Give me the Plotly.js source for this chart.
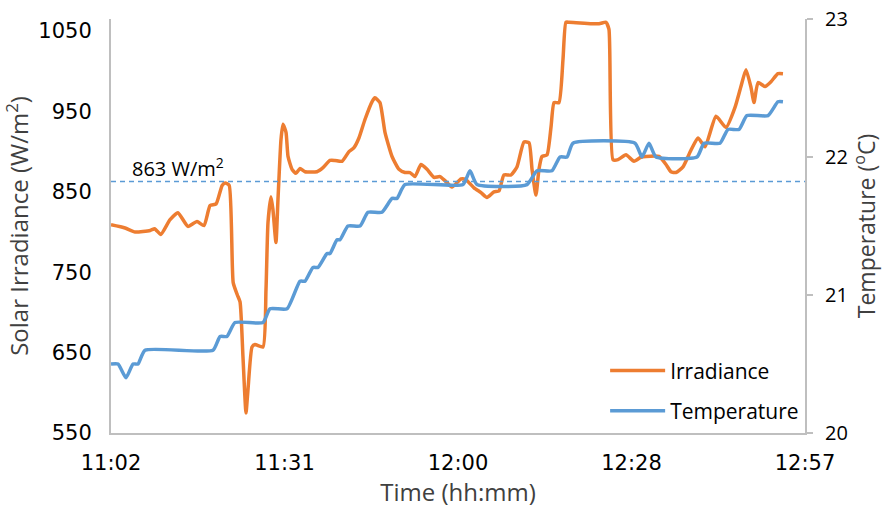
<!DOCTYPE html>
<html>
<head>
<meta charset="utf-8">
<script src="https://cdn.plot.ly/plotly-3.0.1.min.js"></script>
<style>html,body{margin:0;padding:0;background:#fff;}#chart{width:888px;height:512px;}</style>
</head>
<body>
<div id="chart"></div>
<script>
// Irradiance (W/m2) readings
const irrTimes = ["11:02:00","11:04:20","11:06:00","11:08:30","11:09:15","11:10:15","11:11:45","11:13:05","11:14:45","11:16:15","11:17:25","11:18:25","11:19:25","11:20:25","11:20:55","11:21:35","11:22:15","11:22:55","11:23:23","11:23:52","11:24:22","11:24:42","11:25:22","11:25:52","11:27:11","11:27:41","11:28:01","11:28:31","11:28:50","11:29:20","11:29:40","11:30:10","11:30:30","11:31:00","11:31:20","11:32:00","11:32:39","11:33:19","11:34:09","11:36:08","11:37:08","11:38:17","11:39:07","11:40:17","11:41:26","11:42:16","11:43:05","11:44:05","11:45:15","11:45:44","11:46:34","11:47:24","11:48:34","11:49:43","11:50:43","11:51:32","11:52:22","11:53:22","11:54:22","11:55:31","11:56:31","11:57:20","11:58:30","12:00:00","12:00:49","12:02:09","12:03:19","12:04:18","12:05:28","12:06:17","12:07:07","12:08:17","12:09:16","12:10:26","12:11:16","12:11:46","12:12:25","12:12:55","12:13:25","12:14:15","12:14:55","12:15:25","12:16:14","12:16:54","12:17:23","12:17:53","12:22:52","12:24:01","12:24:31","12:25:11","12:26:01","12:27:20","12:28:40","12:29:49","12:30:39","12:32:48","12:33:58","12:34:47","12:35:37","12:36:47","12:38:07","12:39:16","12:40:26","12:42:15","12:43:55","12:45:24","12:46:23","12:47:13","12:48:03","12:48:33","12:49:13","12:50:22","12:51:22","12:52:31","12:53:21"];
const irradiance = [809,805,800,802,804,797,815,824,807,813,808,833,835,858,861,858,737,722,713,645,575,604,657,660,657,728,812,844,828,787,840,915,934,924,894,878,873,879,875,875,880,889,889,888,900,905,917,940,962,967,961,924,894,878,874,874,869,884,878,868,869,864,856,866,865,855,849,843,850,851,871,871,881,912,911,878,846,878,894,896,931,961,961,1015,1061,1061,1059,1061,1052,890,890,896,888,893,894,894,884,875,874,881,902,917,906,944,930,955,981,1002,980,961,986,981,987,997,997];

// Temperature (°C) readings
const tempTimes = ["11:02:00","11:03:10","11:04:29","11:05:39","11:06:28","11:07:38","11:18:54","11:20:04","11:21:13","11:22:33","11:27:11","11:28:21","11:31:10","11:33:19","11:34:09","11:35:28","11:36:18","11:37:47","11:38:17","11:39:27","11:39:57","11:41:16","11:43:16","11:44:35","11:46:54","11:48:34","11:49:23","11:50:43","12:00:20","12:01:29","12:02:39","12:10:56","12:12:35","12:15:04","12:16:24","12:17:34","12:18:33","12:28:50","12:29:59","12:31:09","12:32:19","12:39:06","12:40:16","12:42:55","12:44:14","12:46:04","12:47:23","12:50:52","12:52:31","12:53:21"];
const temperature = [20.5,20.5,20.4,20.5,20.5,20.6,20.6,20.7,20.7,20.8,20.8,20.9,20.9,21.1,21.1,21.2,21.2,21.3,21.3,21.4,21.4,21.5,21.5,21.6,21.6,21.7,21.7,21.8,21.8,21.9,21.8,21.8,21.9,21.9,22.0,22.0,22.1,22.1,22.0,22.1,22.0,22.0,22.1,22.1,22.2,22.2,22.3,22.3,22.4,22.4];

const threshold = 863;
const xTickTimes = ["11:02:00","11:30:45","11:59:30","12:28:15","12:57:00"];
const xTickLabels = ["11:02","11:31","12:00","12:28","12:57"];
const yLeftTicks = [550,650,750,850,950,1050];
const yRightTicks = [20,21,22,23];

const day = "2024-01-01 ";
const toDate = t => day + t;

const traces = [
  {x: irrTimes.map(toDate), y: irradiance, name: "Irradiance", type: "scatter", mode: "lines", legendgroup: "irr",
   line: {color: "#ED7D31", width: 3.5, shape: "spline", smoothing: 0.5}, yaxis: "y"},
  {x: tempTimes.map(toDate), y: temperature, name: "Temperature", type: "scatter", mode: "lines", legendgroup: "temp",
   line: {color: "#5B9BD5", width: 3.5, shape: "spline", smoothing: 0.5}, yaxis: "y2"}
];

const titleFont = {family: "'Open Sans', sans-serif", size: 24, color: "#404040"};
const tickFont = {family: "'DejaVu Sans', sans-serif", size: 21, color: "#000"};

const layout = {
  width: 888, height: 512,
  margin: {l: 111, r: 83, t: 19, b: 79},
  paper_bgcolor: "#fff", plot_bgcolor: "#fff",
  showlegend: true,
  legend: {x: 0.712, y: 0.004, xanchor: "left", yanchor: "bottom", bgcolor: "rgba(0,0,0,0)",
           traceorder: "grouped", tracegroupgap: 10, itemwidth: 55,
           font: {family: "'Open Sans', sans-serif", size: 21, color: "#000"}},
  xaxis: {type: "date", range: [toDate("11:02:00"), toDate("12:57:00")],
          tickvals: xTickTimes.map(toDate), ticktext: xTickLabels,
          showgrid: false, zeroline: false, showline: true, linecolor: "#BFBFBF", linewidth: 2,
          ticks: "", ticklabelstandoff: 10, tickfont: tickFont,
          title: {text: "Time (hh:mm)", font: titleFont, standoff: 6}},
  yaxis: {range: [550, 1065], tickvals: yLeftTicks, showgrid: false, zeroline: false,
          showline: true, linecolor: "#BFBFBF", linewidth: 2, ticks: "", ticklabelstandoff: 13,
          tickfont: tickFont,
          title: {text: "Solar Irradiance (W/m<sup>2</sup>)", font: titleFont, standoff: 4}},
  yaxis2: {range: [20, 23], tickvals: yRightTicks, overlaying: "y", side: "right",
           showgrid: false, zeroline: false, showline: true, linecolor: "#BFBFBF", linewidth: 2,
           ticks: "outside", ticklen: 6, tickcolor: "#BFBFBF", tickwidth: 2, ticklabelstandoff: 8,
           tickfont: {family: "'Open Sans', sans-serif", size: 20, color: "#000"},
           title: {text: "Temperature (<sup>o</sup>C)", font: {family: "'Open Sans', sans-serif", size: 23, color: "#404040"}, standoff: 10}},
  shapes: [{type: "line", xref: "paper", x0: 0, x1: 1, yref: "y", y0: threshold, y1: threshold,
            line: {color: "#5B9BD5", width: 1.5, dash: "5px,4px"}}],
  annotations: [{xref: "paper", x: 0.027, yref: "y", y: threshold, xanchor: "left", yanchor: "bottom",
                 text: threshold + " W/m<sup>2</sup>", showarrow: false, yshift: -3,
                 font: {family: "'Open Sans', sans-serif", size: 20, color: "#000"}}]
};

Plotly.newPlot("chart", traces, layout, {displayModeBar: false, staticPlot: true});
</script>
</body>
</html>
